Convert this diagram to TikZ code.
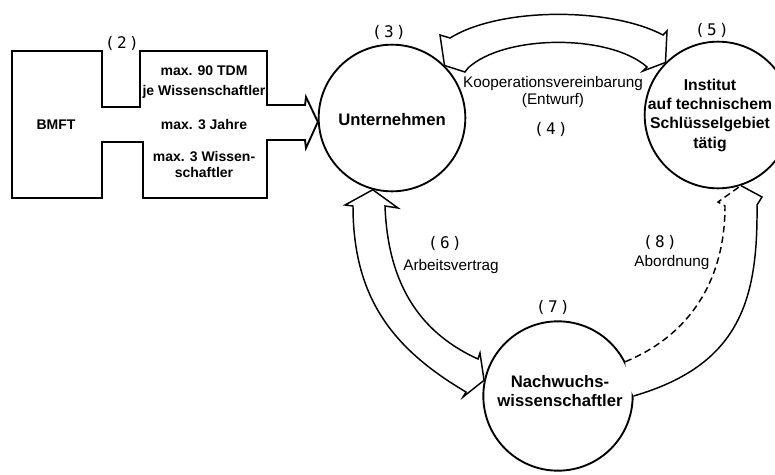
\documentclass[tikz,border=0pt]{standalone}
\usepackage{fontspec}
\setmainfont{Liberation Sans}
\newfontfamily\numfont[LetterSpace=15]{DejaVu Sans Mono}

\begin{document}
\begin{tikzpicture}[x=0.75pt,y=0.75pt,yscale=-1,xscale=1,
  partner/.style={draw,circle,line width=1.4pt,minimum size=110pt,inner sep=0pt},
  partnername/.style={inner sep=0.75pt,align=center,font=\fontsize{12.5}{14.5}\selectfont\bfseries},
  boxtext/.style={inner sep=0.75pt,align=center,font=\fontsize{10.5}{12}\selectfont\bfseries},
  flowtext/.style={inner sep=0.75pt,align=center,font=\fontsize{11.5}{12.75}\selectfont},
  numlabel/.style={inner sep=0.75pt,font=\numfont\fontsize{12}{14}\selectfont},
  broad/.style={line width=1.1pt,line join=miter}
]

\clip (0,0) rectangle (775,475);

\node [partner] (unt) at (392,118) {};
\node [partner] (inst) at (718,115) {};
\node [partner,minimum size=112pt] (nws) at (558,396) {};

\node [partnername] (untname) at (392,120) {Unternehmen};
\node [partnername,font=\fontsize{11.8}{14.5}\selectfont\bfseries] (instname) at (710,115) {Institut\\auf technischem\\Schlüsselgebiet\\tätig};
\node [partnername] (nwsname) at (560,391) {Nachwuchs-\\wissenschaftler};

\coordinate (bmfttip) at (unt.183);
\draw [line width=1.4pt,line join=miter] (12,51) -- (102,51) -- (102,107) -- (140,107) -- (140,51) -- (267,51) -- (267,105) -- (305,105) -- (306,97) -- (bmfttip) -- (306,148) -- (305,140) -- (267,140) -- (267,198) -- (143,198) -- (143,142) -- (102,142) -- (102,198) -- (12,198) -- cycle;

\node [boxtext] (bmft) at (56,125) {BMFT};
\node [boxtext] (geld) at (204,82) {max. 90 TDM\\[3pt]je Wissenschaftler};
\node [boxtext] (dauer) at (204,125) {max. 3 Jahre};
\node [boxtext] (anzahl) at (204,164) {max. 3 Wissen-\\schaftler};

\coordinate (koopL) at (unt.45);
\coordinate (koopR) at (inst.135);
\draw [broad] (koopL) -- (440,35) -- (450,38) .. controls (500,7) and (610,7) .. (663,35) -- (667,31) -- (koopR) -- (643,71) -- (647,67) .. controls (610,34) and (505,34) .. (468,68) -- (465,72) -- cycle;

\coordinate (arbT) at (unt.-105);
\coordinate (arbB) at (nws.168);
\draw [broad] (arbT) -- (398,208) -- (385,206) .. controls (388,290) and (425,335) .. (478,359) -- (480,353) -- (arbB) -- (463,397) -- (466,392) .. controls (395,350) and (353,300) .. (353,206) -- (345,205) -- cycle;

\coordinate (abdT) at (inst.-72);
\coordinate (abdL) at (nws.27);
\coordinate (abdR) at (nws.0);
\fill [white] (abdL) .. controls (690,335) and (725,280) .. (725,206) -- (718,202) -- (abdT) -- (762,197) -- (757,205) .. controls (758,300) and (740,365) .. (abdR) -- (626,380) -- cycle;
\draw [broad,dash pattern=on 5pt off 3pt] (abdL) .. controls (690,335) and (725,280) .. (725,206) -- (718,202) -- (abdT);
\draw [broad] (abdT) -- (762,197) -- (757,205) .. controls (758,300) and (740,365) .. (abdR);

\node [numlabel] (n2) at (122,43) {(2)};
\node [numlabel] (n3) at (389,32) {(3)};
\node [numlabel] (n4) at (551,129) {(4)};
\node [numlabel] (n5) at (712,30) {(5)};
\node [numlabel] (n6) at (445,243) {(6)};
\node [numlabel] (n7) at (553,307) {(7)};
\node [numlabel] (n8) at (660,242) {(8)};

\node [flowtext] (koop) at (553,92) {Kooperationsvereinbarung\\(Entwurf)};
\node [flowtext] (arb) at (451,267) {Arbeitsvertrag};
\node [flowtext] (abd) at (672,263) {Abordnung};

\end{tikzpicture}
\end{document}
